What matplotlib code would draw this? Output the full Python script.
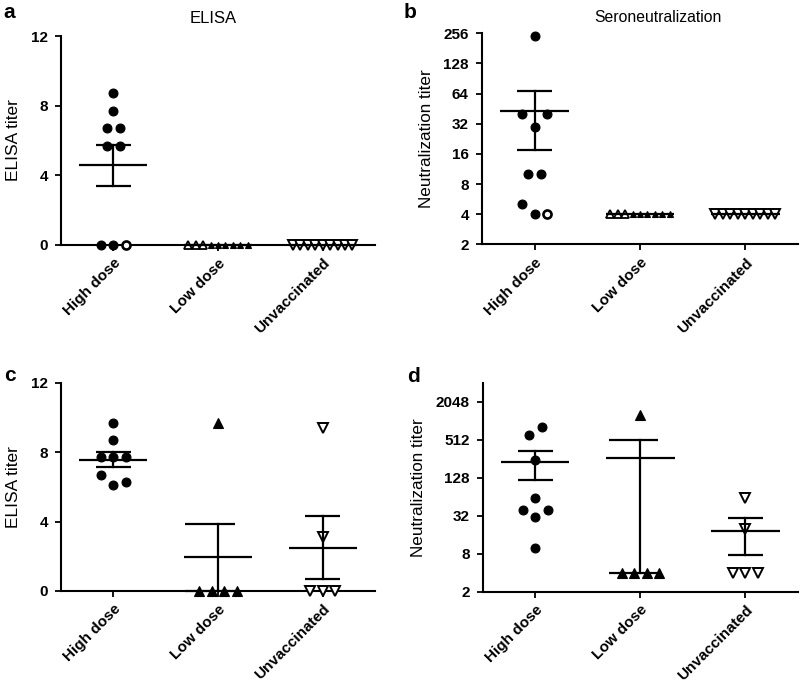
import numpy as np
import matplotlib
matplotlib.use("Agg")
import matplotlib.pyplot as plt
from matplotlib.ticker import FixedLocator, NullLocator, FixedFormatter

plt.rcParams['font.family'] = ['Liberation Sans', 'DejaVu Sans']

# ---------------- data ----------------
groups = ["High dose", "Low dose", "Unvaccinated"]

# (a) ELISA, first experiment
elisa1_high = [8.7, 7.7, 6.7, 6.7, 5.7, 5.7, 0, 0, 0]
elisa1_low = [0, 0, 0, 0, 0, 0, 0, 0, 0]
elisa1_unvac = [0, 0, 0, 0, 0, 0, 0, 0, 0]

# (b) Seroneutralization, first experiment
neut1_high = [240, 40, 40, 30, 10, 10, 5, 4, 4]
neut1_low = [4, 4, 4, 4, 4, 4, 4, 4, 4]
neut1_unvac = [4, 4, 4, 4, 4, 4, 4, 4, 4]

# (c) ELISA, second experiment
elisa2_high = [9.7, 8.7, 7.7, 7.7, 7.7, 6.7, 6.3, 6.1]
elisa2_low = [9.7, 0, 0, 0, 0]
elisa2_unvac = [9.4, 3.1, 0, 0, 0]

# (d) Neutralization, second experiment
neut2_high = [800, 600, 240, 60, 40, 40, 30, 10]
neut2_low = [1280, 4, 4, 4, 4]
neut2_unvac = [60, 20, 4, 4, 4]

# ---------------- layout / style ----------------
W, H = 800, 687
fig = plt.figure(figsize=(W / 100, H / 100), dpi=100)

def px_axes(l, t, r, b):
    return fig.add_axes([l / W, 1 - b / H, (r - l) / W, (b - t) / H])

SLOT = 0.119        # swarm slot width (data units along x)
TIGHT = 0.071       # tight packing for long rows
MEAN_HW = 0.325
CAP_HW = 0.165

def centered(n, step):
    return [(i - (n - 1) / 2) * step for i in range(n)]

# swarm slot layout per group (in slot units)
sw_a_high = [0, 0, -0.5, 0.5, -0.5, 0.5, -1, 0, 1]
sw_b_high = [0, -1, 1, 0, -0.5, 0.5, -1, 0, 1]
sw_c_high = [0, 0, -1, 0, 1, -1, 1, 0]
sw_c_low = [0, -1.5, -0.5, 0.5, 1.5]
sw_c_unvac = [0, 0, -1, 0, 1]
sw_d_high = [0.5, -0.5, 0, 0, -1, 1, 0, 0]
sw_d_low = [0, -1.5, -0.5, 0.5, 1.5]
sw_d_unvac = [0, 0, -1, 0, 1]

FILLED_O = dict(marker='o', ms=6.4, mfc='black', mec='black', mew=0.8)
OPEN_O = dict(marker='o', ms=5.8, mfc='white', mec='black', mew=1.9)
FILLED_UP = dict(marker='^', ms=6.6, mfc='black', mec='black', mew=0.8)
OPEN_UP = dict(marker='^', ms=6.0, mfc='white', mec='black', mew=1.3)
SMALL_UP = dict(marker='^', ms=4.8, mfc='black', mec='black', mew=0.8)
OPEN_DN = dict(marker='v', ms=6.6, mfc='white', mec='black', mew=1.4)

TICKFS = 11

def draw_points(ax, xc, values, offsets, styles):
    for v, o, st in zip(values, offsets, styles):
        ax.plot([xc + o], [v], linestyle='none', clip_on=False, zorder=3, **st)

def draw_stats(ax, xc, values, cap_hw=CAP_HW, cap_shift=0.0):
    v = np.asarray(values, float)
    m = v.mean()
    se = v.std(ddof=1) / np.sqrt(len(v))
    lw = 1.6
    ax.plot([xc - MEAN_HW, xc + MEAN_HW], [m, m], color='black', lw=lw,
            clip_on=False, zorder=4, solid_capstyle='butt')
    if se > 0:
        ax.plot([xc, xc], [m - se, m + se], color='black', lw=lw,
                clip_on=False, zorder=4)
        for yv in (m - se, m + se):
            ax.plot([xc - cap_hw + cap_shift, xc + cap_hw + cap_shift], [yv, yv],
                    color='black', lw=lw, clip_on=False, zorder=4,
                    solid_capstyle='butt')

def style_axes(ax, ylabel, ylabelsize):
    for s in ('top', 'right'):
        ax.spines[s].set_visible(False)
    for s in ('left', 'bottom'):
        ax.spines[s].set_linewidth(1.5)
    ax.set_xlim(-0.5, 2.5)
    ax.set_xticks(range(3))
    ax.set_xticklabels(groups, rotation=45, ha='right', rotation_mode='anchor',
                       fontsize=TICKFS, fontweight='bold')
    ax.tick_params(axis='x', length=4, width=1.3, pad=4)
    ax.tick_params(axis='y', length=4.5, width=1.3, pad=5, labelsize=TICKFS)
    for lab in ax.get_yticklabels():
        lab.set_fontweight('bold')
    ax.set_ylabel(ylabel, fontsize=ylabelsize, labelpad=7)

def log2_axis(ax, lo, hi, ticks):
    ax.set_yscale('log', base=2)
    ax.set_ylim(lo, hi)
    ax.yaxis.set_major_locator(FixedLocator(ticks))
    ax.yaxis.set_major_formatter(FixedFormatter([str(t) for t in ticks]))
    ax.yaxis.set_minor_locator(NullLocator())

# ---------------- panel a ----------------
axA = px_axes(61, 36, 375, 245)
axA.set_ylim(0, 12)
axA.set_yticks([0, 4, 8, 12])
draw_points(axA, 0, elisa1_high, [o * SLOT for o in sw_a_high],
            [FILLED_O] * 8 + [OPEN_O])
draw_points(axA, 1, elisa1_low, centered(9, TIGHT), [OPEN_UP] * 3 + [SMALL_UP] * 6)
draw_points(axA, 2, elisa1_unvac, centered(9, TIGHT), [OPEN_DN] * 9)
for i, vals in enumerate([elisa1_high, elisa1_low, elisa1_unvac]):
    draw_stats(axA, i, vals)
style_axes(axA, "ELISA titer", 12.5)
axA.set_yticklabels(['0', '4', '8', '12'], fontweight='bold', fontsize=TICKFS)
axA.text(0.485, 1.085, "ELISA", transform=axA.transAxes, ha='center',
         va='center', fontsize=12)

# ---------------- panel b ----------------
axB = px_axes(482, 33.3, 798, 244.3)
log2_axis(axB, 2, 256, [2, 4, 8, 16, 32, 64, 128, 256])
draw_points(axB, 0, neut1_high, [o * SLOT for o in sw_b_high],
            [FILLED_O] * 8 + [OPEN_O])
draw_points(axB, 1, neut1_low, centered(9, TIGHT), [OPEN_UP] * 3 + [SMALL_UP] * 6)
draw_points(axB, 2, neut1_unvac, centered(9, TIGHT), [OPEN_DN] * 9)
for i, vals in enumerate([neut1_high, neut1_low, neut1_unvac]):
    draw_stats(axB, i, vals)
style_axes(axB, "Neutralization titer", 12.3)
axB.text(0.557, 1.073, "Seroneutralization", transform=axB.transAxes,
         ha='center', va='center', fontsize=11.3)

# ---------------- panel c ----------------
axC = px_axes(61, 382.7, 375, 591)
axC.set_ylim(0, 12)
axC.set_yticks([0, 4, 8, 12])
draw_points(axC, 0, elisa2_high, [o * SLOT for o in sw_c_high], [FILLED_O] * 8)
draw_points(axC, 1, elisa2_low, [o * SLOT for o in sw_c_low], [FILLED_UP] * 5)
draw_points(axC, 2, elisa2_unvac, [o * SLOT for o in sw_c_unvac], [OPEN_DN] * 5)
draw_stats(axC, 0, elisa2_high)
draw_stats(axC, 1, elisa2_low, cap_hw=0.24, cap_shift=-0.08)
draw_stats(axC, 2, elisa2_unvac)
style_axes(axC, "ELISA titer", 12.5)
axC.set_yticklabels(['0', '4', '8', '12'], fontweight='bold', fontsize=TICKFS)

# ---------------- panel d ----------------
axD = px_axes(482.7, 382.7, 798, 591.7)
log2_axis(axD, 2, 4096, [2, 8, 32, 128, 512, 2048])
draw_points(axD, 0, neut2_high, [o * SLOT for o in sw_d_high], [FILLED_O] * 8)
draw_points(axD, 1, neut2_low, [o * SLOT for o in sw_d_low], [FILLED_UP] * 5)
draw_points(axD, 2, neut2_unvac, [o * SLOT for o in sw_d_unvac], [OPEN_DN] * 5)
draw_stats(axD, 0, neut2_high)
draw_stats(axD, 1, neut2_low, cap_hw=0.235, cap_shift=-0.065)
draw_stats(axD, 2, neut2_unvac)
style_axes(axD, "Neutralization titer", 12.3)

for ax in (axB, axD):
    for lab in ax.get_yticklabels():
        lab.set_fontweight('bold')

# panel letters
fig.text(3 / W, 1 - 12 / H, "a", fontsize=15, fontweight='bold', va='center')
fig.text(404 / W, 1 - 13 / H, "b", fontsize=15, fontweight='bold', va='center')
fig.text(4 / W, 1 - 375 / H, "c", fontsize=15, fontweight='bold', va='center')
fig.text(407 / W, 1 - 377 / H, "d", fontsize=15, fontweight='bold', va='center')

fig.savefig("out.png", dpi=100)
